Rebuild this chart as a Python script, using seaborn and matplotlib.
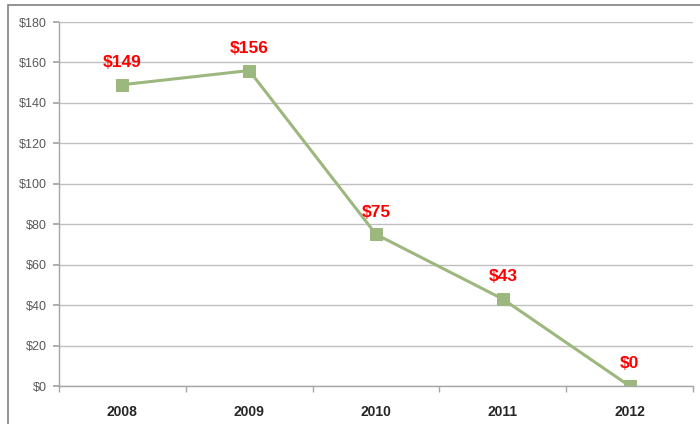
import matplotlib
matplotlib.use("Agg")
import matplotlib.pyplot as plt
import seaborn as sns
import pandas as pd
from matplotlib.patches import Rectangle

years = ["2008", "2009", "2010", "2011", "2012"]
values = [149, 156, 75, 43, 0]
labels = ["$149", "$156", "$75", "$43", "$0"]
yticks = [0, 20, 40, 60, 80, 100, 120, 140, 160, 180]
ytick_labels = [f"${v}" for v in yticks]

sns.set_theme(style="white")
plt.rcParams['font.family'] = ['Liberation Sans', 'DejaVu Sans']

df = pd.DataFrame({"year": years, "value": values})

fig = plt.figure(figsize=(7, 4.24), dpi=100)
ax = fig.add_axes([59/700, 1-386/424, (693-59)/700, (386-22)/424])

line_color = "#9DB87F"
sns.lineplot(data=df, x="year", y="value", ax=ax, color=line_color, linewidth=2.2,
             marker="s", markersize=8.5, markeredgecolor=line_color,
             markerfacecolor=line_color, sort=False)

for i, (v, lab) in enumerate(zip(values, labels)):
    ax.annotate(lab, (i, v), xytext=(0, 16), textcoords="offset points",
                ha="center", va="center", color="#FF0000", fontsize=12.5,
                fontweight="bold")

ax.set_xlim(-0.5, len(years) - 0.5)
ax.set_ylim(0, 180)
ax.set_yticks(yticks)
ax.set_yticklabels(ytick_labels, fontsize=9, color="#595959")
ax.set_xticks(range(len(years)))
ax.set_xticklabels(years, fontsize=10, fontweight="bold", color="#262626")
ax.set_xlabel("")
ax.set_ylabel("")

ax.yaxis.grid(True, color="#BFBFBF", linewidth=1)
ax.set_axisbelow(True)
for s in ["top", "right"]:
    ax.spines[s].set_visible(False)
for s in ["left", "bottom"]:
    ax.spines[s].set_color("#A6A6A6")
    ax.spines[s].set_linewidth(1)

ax.tick_params(axis="y", which="major", left=True, length=4, color="#A6A6A6", pad=5)
ax.tick_params(axis="x", which="major", bottom=False, pad=8)
# minor ticks at category boundaries on x axis
ax.set_xticks([i - 0.5 for i in range(len(years) + 1)], minor=True)
ax.tick_params(axis="x", which="minor", bottom=True, length=4, color="#A6A6A6", direction="out")

# outer chart border (left/top visible)
fig.patches.append(Rectangle((8/700, -0.05), 1.0, 1 - 5/424 + 0.05,
                             transform=fig.transFigure, fill=False,
                             edgecolor="#808080", linewidth=1.2))

fig.savefig("out.png", dpi=100)
